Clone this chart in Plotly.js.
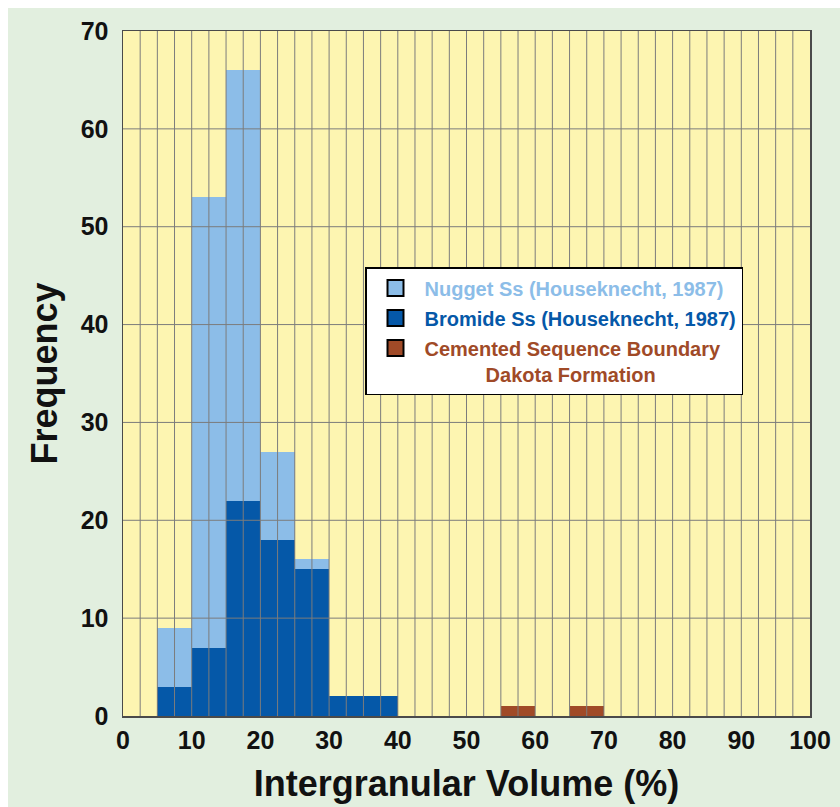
<!DOCTYPE html>
<html>
<head>
<meta charset="utf-8">
<script src="https://cdn.plot.ly/plotly-3.0.1.min.js"></script>
<style>html,body{margin:0;padding:0;background:#fff;}#chart{width:840px;height:807px;}</style>
</head>
<body>
<div id="chart"></div>
<script>
// Bin left edges (Intergranular Volume %, bins 5 wide) and frequencies
const nuggetBins = [5, 10, 15, 20, 25];
const nuggetFreq = [9, 53, 66, 27, 16];
const bromideBins = [5, 10, 15, 20, 25, 30, 35];
const bromideFreq = [3, 7, 22, 18, 15, 2, 2];
const cementedBins = [55, 65];
const cementedFreq = [1, 1];
const seriesNames = ["Nugget Ss (Houseknecht, 1987)", "Bromide Ss (Houseknecht, 1987)", "Cemented Sequence Boundary", "Dakota Formation"];
const xTickVals = [0, 10, 20, 30, 40, 50, 60, 70, 80, 90, 100];
const yTickVals = [0, 10, 20, 30, 40, 50, 60, 70];

const C_NUG = "#8cbde8", C_BRO = "#0558a8", C_CEM = "#a04a27";
const FONT = "Liberation Sans, Arial, Helvetica, sans-serif";
const BIN_W = 5;

const traces = [
  {type: "bar", x: nuggetBins, y: nuggetFreq, width: BIN_W, offset: 0, marker: {color: C_NUG, line: {width: 0}}, showlegend: false, hoverinfo: "x+y"},
  {type: "bar", x: bromideBins, y: bromideFreq, width: BIN_W, offset: 0, marker: {color: C_BRO, line: {width: 0}}, showlegend: false, hoverinfo: "x+y"},
  {type: "bar", x: cementedBins, y: cementedFreq, width: BIN_W, offset: 0, marker: {color: C_CEM, line: {width: 0}}, showlegend: false, hoverinfo: "x+y"},
  // legend entries
  {type: "scatter", mode: "markers", x: [null], y: [null], legendgroup: "a",
   name: '<span style="color:' + C_NUG + '">' + seriesNames[0] + '</span>',
   marker: {symbol: "square", size: 16, color: C_NUG, line: {color: "#000", width: 2}}},
  {type: "scatter", mode: "markers", x: [null], y: [null], legendgroup: "b",
   name: '<span style="color:' + C_BRO + '">' + seriesNames[1] + '</span>',
   marker: {symbol: "square", size: 16, color: C_BRO, line: {color: "#000", width: 2}}},
  {type: "scatter", mode: "markers", x: [null], y: [null], legendgroup: "c",
   name: '<span style="color:' + C_CEM + '">' + seriesNames[2] + '<br>' + '&nbsp;'.repeat(11) + seriesNames[3] + '</span>',
   marker: {symbol: "square", size: 16, color: C_CEM, line: {color: "#000", width: 2}}}
];

const shapes = [];
// white strips at top and left of the figure
shapes.push({type: "rect", xref: "paper", yref: "paper", x0: -0.2, x1: 1.1, y0: (716 - 8) / 685, y1: 1.2, fillcolor: "#fff", line: {width: 0}, layer: "below"});
shapes.push({type: "rect", xref: "paper", yref: "paper", x0: -0.2, x1: (8 - 123) / 687, y0: -0.2, y1: 1.2, fillcolor: "#fff", line: {width: 0}, layer: "below"});
// grid drawn above bars
for (let v = 2.5; v < 100; v += 2.5) {
  shapes.push({type: "line", xref: "x", yref: "paper", x0: v, x1: v, y0: 0, y1: 1, line: {color: "#7c7c7c", width: 1}, layer: "above"});
}
for (let v = 10; v < 70; v += 10) {
  shapes.push({type: "line", xref: "paper", yref: "y", x0: 0, x1: 1, y0: v, y1: v, line: {color: "#7c7c7c", width: 1}, layer: "above"});
}

const layout = {
  width: 840, height: 807,
  margin: {l: 123, r: 30, t: 31, b: 91, pad: 0},
  paper_bgcolor: "#e2efdf",
  plot_bgcolor: "#fdf5b1",
  barmode: "overlay",
  bargap: 0,
  font: {family: FONT, color: "#111"},
  xaxis: {
    range: [0, 100], tickvals: xTickVals, ticks: "", showgrid: false, zeroline: false,
    showline: true, linecolor: "#4a4a4a", linewidth: 1.5, mirror: true,
    tickfont: {family: FONT, size: 25, weight: "bold", color: "#111"},
    ticklabelstandoff: 1,
    title: {text: "Intergranular Volume (%)", font: {family: FONT, size: 36, weight: "bold", color: "#111"}, standoff: 18},
    fixedrange: true
  },
  yaxis: {
    range: [0, 70], tickvals: yTickVals, ticks: "", showgrid: false, zeroline: false,
    showline: true, linecolor: "#4a4a4a", linewidth: 1.5, mirror: true,
    tickfont: {family: FONT, size: 25, weight: "bold", color: "#111"},
    ticklabelstandoff: 8,
    title: {text: "Frequency", font: {family: FONT, size: 36, weight: "bold", color: "#111"}, standoff: 12},
    fixedrange: true
  },
  legend: {
    x: (365 - 123) / 687, y: (716 - 267) / 685, xanchor: "left", yanchor: "top",
    bgcolor: "#fff", bordercolor: "#000", borderwidth: 1.5,
    font: {family: FONT, size: 20, weight: "bold"},
    traceorder: "grouped", tracegroupgap: 1, valign: "top", itemwidth: 48
  },
  shapes: shapes
};

Plotly.newPlot("chart", traces, layout, {displayModeBar: false, staticPlot: true});
</script>
</body>
</html>
